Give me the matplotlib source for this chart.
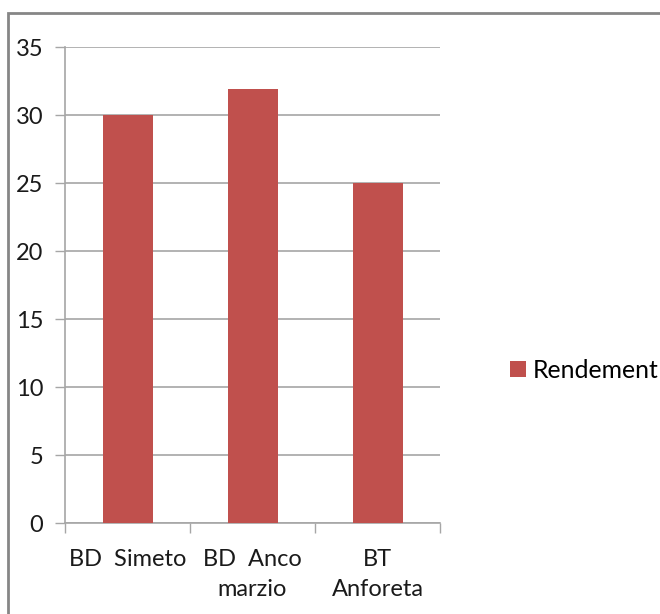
import matplotlib
matplotlib.use("Agg")
import matplotlib.pyplot as plt
from matplotlib.patches import Rectangle
import numpy as np

categories = ["BD  Simeto", "BD  Anco\nmarzio", "BT\nAnforeta"]
values = [30, 31.9, 25]
series_name = "Rendement"
yticks = [0, 5, 10, 15, 20, 25, 30, 35]

W, H = 660, 614
plt.rcParams["font.family"] = ["Lato", "DejaVu Sans"]
fs = 17

fig = plt.figure(figsize=(W / 100, H / 100), dpi=100)
ax = fig.add_axes([65 / W, (H - 523) / H, (440 - 65) / W, (523 - 47) / H])

x = np.arange(len(categories))
bar_color = "#C0504D"
ax.bar(x, values, width=0.4, color=bar_color, label=series_name, zorder=3)

ax.set_xlim(-0.5, len(categories) - 0.5)
ax.set_ylim(0, 35)

grid_c = "#A6A6A6"
ax.set_yticks(yticks)
ax.set_yticklabels([str(v) for v in yticks], fontsize=fs, color="#1a1a1a")
ax.yaxis.grid(True, color=grid_c, linewidth=1.2, zorder=0)
ax.tick_params(axis="y", length=7.2, width=1, color=grid_c, pad=8.6)

# category boundaries as major ticks, names on minor ticks
ax.set_xticks(np.arange(-0.5, len(categories), 1.0))
ax.set_xticklabels([])
ax.set_xticks(x, minor=True)
ax.set_xticklabels(categories, minor=True, fontsize=fs, color="#1a1a1a",
                   linespacing=1.5)
ax.tick_params(axis="x", which="major", length=7, width=1, color=grid_c)
ax.tick_params(axis="x", which="minor", length=0, pad=19)

for s in ["top", "right"]:
    ax.spines[s].set_visible(False)
for s in ["left", "bottom"]:
    ax.spines[s].set_color(grid_c)
    ax.spines[s].set_linewidth(1.2)

leg = fig.legend(loc="center left", bbox_to_anchor=(510 / W, 1 - 370 / H),
                 frameon=False, fontsize=17.8, handlelength=0.65,
                 handleheight=0.65, handletextpad=0.28, borderaxespad=0,
                 borderpad=0)

# outer chart border
fig.add_artist(Rectangle((8 / W, -0.1), 1.2, 1 - 13 / H + 0.1,
                         transform=fig.transFigure, fill=False,
                         edgecolor="#868686", linewidth=2))

fig.savefig("out.png", dpi=100)
